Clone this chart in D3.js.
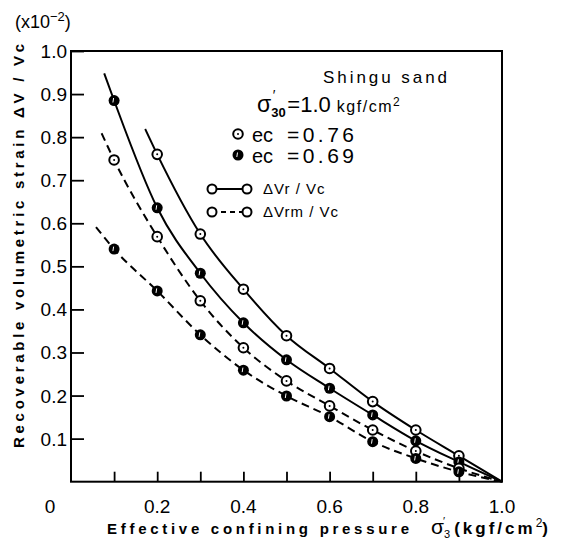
<!DOCTYPE html>
<html>
<head>
<meta charset="utf-8">
<script src="https://cdn.jsdelivr.net/npm/d3@7"></script>
<style>
  body { margin: 0; background: #fff; }
  svg text { font-family: "Liberation Sans", Arial, sans-serif; fill: #000; }
</style>
</head>
<body>
<div id="chart"></div>
<script>
// confining pressure levels (kgf/cm2)
var pressure = [0.1, 0.2, 0.3, 0.4, 0.5, 0.6, 0.7, 0.8, 0.9];

// recoverable volumetric strain (x10^-2)
var vrLoose  = [null, 0.760, 0.575, 0.447, 0.339, 0.263, 0.186, 0.120, 0.060]; // dVr/Vc, ec=0.76
var vrDense  = [0.885, 0.636, 0.484, 0.369, 0.283, 0.217, 0.155, 0.095, 0.046]; // dVr/Vc, ec=0.69
var vrmLoose = [0.747, 0.569, 0.420, 0.311, 0.234, 0.176, 0.120, 0.071, 0.031]; // dVrm/Vc, ec=0.76
var vrmDense = [0.540, 0.443, 0.341, 0.259, 0.199, 0.151, 0.093, 0.054, 0.023]; // dVrm/Vc, ec=0.69

// where each hand-drawn curve begins, and where they all meet
var curveStart = {vrLoose: [0.172, 0.819], vrDense: [0.077, 0.948], vrmLoose: [0.071, 0.809], vrmDense: [0.058, 0.591]};
var curveEnd = [1.0, 0];

var xTicks = [0.2, 0.4, 0.6, 0.8, 1.0];
var xMinor = [0.1, 0.2, 0.3, 0.4, 0.5, 0.6, 0.7, 0.8, 0.9];
var yTicks = [0.1, 0.2, 0.3, 0.4, 0.5, 0.6, 0.7, 0.8, 0.9, 1.0];

var width = 568, height = 543;
var plotL = 71, plotR = 502, plotT = 51, plotB = 481.7;

var svg = d3.select("#chart").append("svg")
  .attr("width", width)
  .attr("height", height);

var x = d3.scaleLinear().domain([0, 1]).range([plotL, plotR]);
var y = d3.scaleLinear().domain([0, 1]).range([plotB, plotT]);

// frame
svg.append("rect")
  .attr("x", plotL).attr("y", plotT)
  .attr("width", plotR - plotL).attr("height", plotB - plotT)
  .attr("fill", "none").attr("stroke", "#000").attr("stroke-width", 2);

// ticks pointing inward
var yAxis = d3.axisRight(y).tickValues(yTicks).tickSize(13).tickFormat("");
svg.append("g").attr("transform", "translate(" + plotL + ",0)").call(yAxis)
  .call(function(g) { g.select(".domain").remove(); g.selectAll("line").attr("stroke-width", 1.8); });

var xAxis = d3.axisTop(x).tickValues(xMinor).tickSize(10).tickFormat("");
svg.append("g").attr("transform", "translate(0," + plotB + ")").call(xAxis)
  .call(function(g) { g.select(".domain").remove(); g.selectAll("line").attr("stroke-width", 1.8); });

// tick labels
svg.selectAll(".ylab").data(yTicks).enter().append("text")
  .attr("x", plotL - 4).attr("y", function(d) { return y(d) + 7; })
  .attr("text-anchor", "end").attr("font-size", 19)
  .text(function(d) { return d.toFixed(1); });

svg.selectAll(".xlab").data(xTicks).enter().append("text")
  .attr("x", function(d) { return x(d); }).attr("y", plotB + 31)
  .attr("text-anchor", "middle").attr("font-size", 19)
  .text(function(d) { return d.toFixed(1); });

svg.append("text").attr("x", 50).attr("y", plotB + 31)
  .attr("text-anchor", "middle").attr("font-size", 19).text("0");

// scale note
var note = svg.append("text").attr("x", 15).attr("y", 28).attr("font-size", 18);
note.append("tspan").text("(x10");
note.append("tspan").attr("dy", -7).attr("font-size", 13).text("−2");
note.append("tspan").attr("dy", 7).text(")");

// axis titles
svg.append("text")
  .attr("transform", "translate(24,246) rotate(-90)")
  .attr("text-anchor", "middle").attr("font-size", 15).attr("font-weight", "bold")
  .attr("textLength", 404).attr("lengthAdjust", "spacing")
  .text("Recoverable volumetric strain ΔV / Vc");

svg.append("text").attr("x", 107).attr("y", 534)
  .attr("font-size", 15).attr("font-weight", "bold")
  .attr("textLength", 302).attr("lengthAdjust", "spacing")
  .text("Effective confining pressure");

var xt = svg.append("text").attr("x", 431).attr("y", 534).attr("font-size", 17);
xt.append("tspan").attr("font-size", 21).text("σ");
xt.append("tspan").attr("dy", 4).attr("font-size", 11).text("3");
xt.append("tspan").attr("dx", -7).attr("dy", -13).attr("font-size", 11).text("′");
xt.append("tspan").attr("dx", 9).attr("dy", 9).attr("font-weight", "bold")
  .attr("letter-spacing", 3).text("(kgf/cm");
xt.append("tspan").attr("dy", -7).attr("font-size", 12).text("2");
xt.append("tspan").attr("dy", 7).attr("font-weight", "bold").text(")");

// curves
var line = d3.line()
  .x(function(d) { return x(d[0]); })
  .y(function(d) { return y(d[1]); })
  .curve(d3.curveMonotoneX);

var series = [
  {key: "vrLoose", values: vrLoose, dashed: false, filled: false},
  {key: "vrDense", values: vrDense, dashed: false, filled: true},
  {key: "vrmLoose", values: vrmLoose, dashed: true, filled: false},
  {key: "vrmDense", values: vrmDense, dashed: true, filled: true}
];

series.forEach(function(s) {
  var pts = pressure.map(function(p, i) { return [p, s.values[i]]; })
    .filter(function(d) { return d[1] != null; });
  var path = [curveStart[s.key]].concat(pts, [curveEnd]);
  svg.append("path")
    .attr("d", line(path))
    .attr("fill", "none").attr("stroke", "#000").attr("stroke-width", 2)
    .attr("stroke-dasharray", s.dashed ? "8,5" : null);
});

function marker(g, cx, cy, filled) {
  if (filled) {
    g.append("circle").attr("cx", cx).attr("cy", cy).attr("r", 5.5).attr("fill", "#000");
    g.append("line").attr("x1", cx - 0.5).attr("y1", cy - 2.5).attr("x2", cx - 1.2).attr("y2", cy + 2)
      .attr("stroke", "#fff").attr("stroke-width", 1);
  } else {
    g.append("circle").attr("cx", cx).attr("cy", cy).attr("r", 4.8)
      .attr("fill", "#fff").attr("stroke", "#000").attr("stroke-width", 2);
    g.append("circle").attr("cx", cx).attr("cy", cy).attr("r", 1).attr("fill", "#000");
  }
}

var marks = svg.append("g");
series.forEach(function(s) {
  pressure.forEach(function(p, i) {
    if (s.values[i] == null) return;
    marker(marks, x(p), y(s.values[i]), s.filled);
  });
});

// legend
svg.append("text").attr("x", 323).attr("y", 83).attr("font-size", 17)
  .attr("textLength", 124).attr("lengthAdjust", "spacing").text("Shingu sand");

var sg = svg.append("text").attr("x", 257).attr("y", 112).attr("font-size", 22);
sg.append("tspan").attr("font-size", 23).text("σ");
sg.append("tspan").attr("dy", 5).attr("font-size", 13).attr("font-weight", "bold").text("30");
sg.append("tspan").attr("dx", -13).attr("dy", -17).attr("font-size", 14).text("′");
sg.append("tspan").attr("dx", 12).attr("dy", 12).text("=1.0 ");
sg.append("tspan").attr("font-size", 16).attr("letter-spacing", 1.5).text("kgf/cm");
sg.append("tspan").attr("dy", -6).attr("font-size", 12).text("2");

var ecRows = [{y: 142, filled: false, label: "=0.76"}, {y: 163, filled: true, label: "=0.69"}];
ecRows.forEach(function(r) {
  marker(svg, 238, r.y - 8, r.filled);
  svg.append("text").attr("x", 252).attr("y", r.y).attr("font-size", 20).text("ec");
  svg.append("text").attr("x", 287).attr("y", r.y).attr("font-size", 21)
    .attr("textLength", 67).attr("lengthAdjust", "spacing").text(r.label);
});

var lineRows = [{y: 189, dashed: false, label: "ΔVr / Vc"}, {y: 212, dashed: true, label: "ΔVrm / Vc"}];
lineRows.forEach(function(r) {
  svg.append("line").attr("x1", 212).attr("x2", 247).attr("y1", r.y).attr("y2", r.y)
    .attr("stroke", "#000").attr("stroke-width", 2)
    .attr("stroke-dasharray", r.dashed ? "5,4" : null);
  [212, 247].forEach(function(cx) {
    svg.append("circle").attr("cx", cx).attr("cy", r.y).attr("r", 4.5)
      .attr("fill", "#fff").attr("stroke", "#000").attr("stroke-width", 2);
  });
  svg.append("text").attr("x", 263).attr("y", r.y + 5).attr("font-size", 15)
    .attr("letter-spacing", 1).text(r.label);
});
</script>
</body>
</html>
